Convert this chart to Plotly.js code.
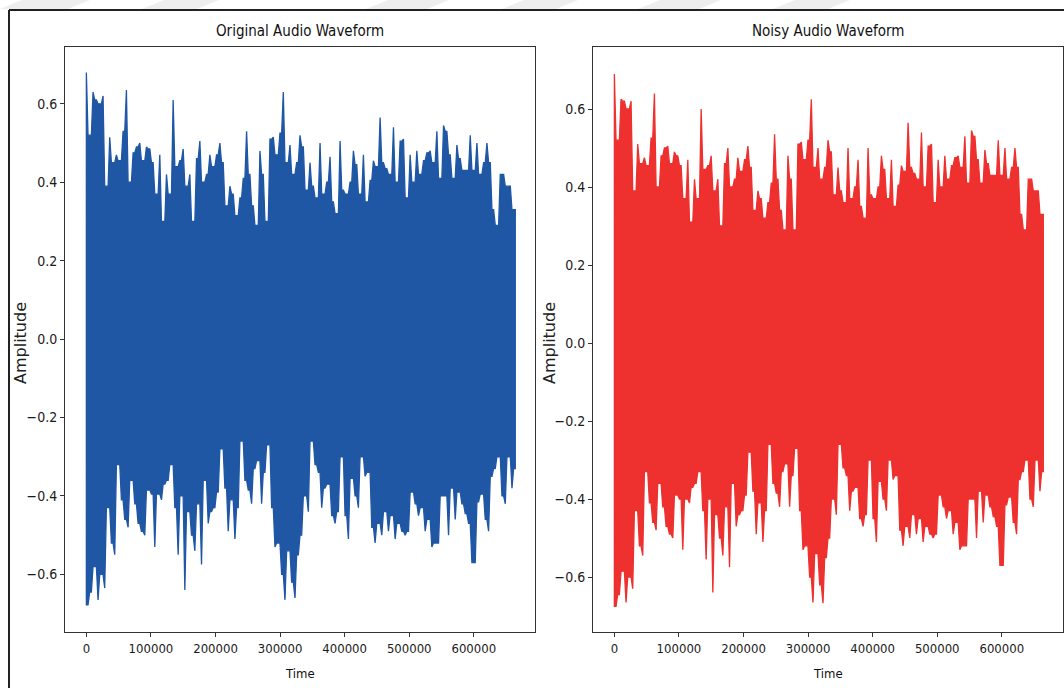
<!DOCTYPE html>
<html>
<head>
<meta charset="utf-8">
<script src="https://cdn.plot.ly/plotly-3.0.1.min.js"></script>
<style>
  html, body { margin: 0; padding: 0; background: #ffffff; }
  #chart { width: 1064px; height: 688px; }
</style>
</head>
<body>
<div id="chart"></div>
<script>
// Sample spacing of the envelope readings (samples per reading)
const STEP = 5170;

// Original audio: upper and lower envelope (peak amplitude per reading window)
const originalUpper = [
  0.68, 0.52, 0.63, 0.61, 0.60, 0.62, 0.39, 0.515, 0.45, 0.47,
  0.455, 0.53, 0.635, 0.40, 0.475, 0.49, 0.50, 0.455, 0.49, 0.485,
  0.45, 0.37, 0.47, 0.30, 0.42, 0.37, 0.61, 0.44, 0.455, 0.485,
  0.39, 0.42, 0.30, 0.46, 0.505, 0.40, 0.42, 0.47, 0.44, 0.47,
  0.50, 0.45, 0.34, 0.39, 0.37, 0.315, 0.36, 0.41, 0.53, 0.42,
  0.34, 0.29, 0.48, 0.42, 0.30, 0.51, 0.515, 0.47, 0.525, 0.63,
  0.45, 0.495, 0.42, 0.45, 0.52, 0.49, 0.38, 0.45, 0.39, 0.36,
  0.50, 0.37, 0.40, 0.465, 0.35, 0.32, 0.505, 0.38, 0.37, 0.40,
  0.48, 0.445, 0.37, 0.47, 0.35, 0.405, 0.455, 0.44, 0.565, 0.45,
  0.435, 0.42, 0.54, 0.40, 0.505, 0.51, 0.36, 0.47, 0.40, 0.48,
  0.42, 0.455, 0.475, 0.48, 0.45, 0.53, 0.41, 0.545, 0.53, 0.47,
  0.41, 0.495, 0.46, 0.43, 0.43, 0.52, 0.43, 0.50, 0.42, 0.45,
  0.50, 0.45, 0.33, 0.29, 0.42, 0.42, 0.39, 0.39, 0.33
];
const originalLower = [
  -0.678, -0.645, -0.58, -0.665, -0.60, -0.635, -0.43, -0.52, -0.55, -0.32,
  -0.41, -0.46, -0.48, -0.36, -0.42, -0.47, -0.49, -0.50, -0.385, -0.395,
  -0.53, -0.395, -0.41, -0.37, -0.36, -0.32, -0.43, -0.55, -0.40, -0.64,
  -0.44, -0.50, -0.54, -0.42, -0.575, -0.36, -0.47, -0.44, -0.43, -0.39,
  -0.28, -0.38, -0.49, -0.41, -0.51, -0.43, -0.26, -0.36, -0.385, -0.42,
  -0.33, -0.31, -0.42, -0.34, -0.27, -0.43, -0.53, -0.52, -0.60, -0.665,
  -0.54, -0.62, -0.66, -0.55, -0.50, -0.40, -0.44, -0.26, -0.32, -0.34,
  -0.43, -0.38, -0.37, -0.45, -0.47, -0.44, -0.30, -0.45, -0.51, -0.355,
  -0.40, -0.43, -0.30, -0.35, -0.34, -0.48, -0.52, -0.47, -0.50, -0.44,
  -0.49, -0.45, -0.51, -0.47, -0.49, -0.50, -0.49, -0.39, -0.42, -0.45,
  -0.43, -0.49, -0.46, -0.53, -0.52, -0.52, -0.40, -0.40, -0.50, -0.38,
  -0.46, -0.39, -0.42, -0.445, -0.47, -0.57, -0.57, -0.415, -0.395, -0.46,
  -0.49, -0.35, -0.33, -0.30, -0.40, -0.42, -0.30, -0.38, -0.33
];

// Noisy audio: upper and lower envelope
const noisyUpper = [
  0.69, 0.52, 0.625, 0.62, 0.60, 0.62, 0.39, 0.51, 0.46, 0.475,
  0.455, 0.525, 0.64, 0.40, 0.48, 0.50, 0.505, 0.46, 0.49, 0.48,
  0.455, 0.37, 0.47, 0.31, 0.42, 0.37, 0.60, 0.445, 0.455, 0.48,
  0.39, 0.42, 0.30, 0.46, 0.50, 0.40, 0.42, 0.475, 0.44, 0.47,
  0.505, 0.45, 0.34, 0.39, 0.37, 0.32, 0.36, 0.41, 0.535, 0.42,
  0.34, 0.29, 0.48, 0.42, 0.29, 0.51, 0.515, 0.47, 0.52, 0.625,
  0.45, 0.50, 0.42, 0.45, 0.52, 0.49, 0.38, 0.45, 0.39, 0.36,
  0.50, 0.37, 0.40, 0.47, 0.35, 0.32, 0.50, 0.38, 0.37, 0.40,
  0.48, 0.445, 0.37, 0.47, 0.35, 0.405, 0.455, 0.44, 0.565, 0.45,
  0.435, 0.42, 0.54, 0.40, 0.505, 0.51, 0.36, 0.47, 0.40, 0.48,
  0.42, 0.455, 0.475, 0.48, 0.45, 0.53, 0.41, 0.545, 0.53, 0.47,
  0.41, 0.495, 0.46, 0.43, 0.43, 0.52, 0.43, 0.50, 0.42, 0.45,
  0.50, 0.45, 0.33, 0.29, 0.42, 0.42, 0.39, 0.39, 0.33
];
const noisyLower = [
  -0.675, -0.645, -0.585, -0.665, -0.60, -0.63, -0.43, -0.52, -0.545, -0.33,
  -0.41, -0.46, -0.48, -0.36, -0.42, -0.47, -0.49, -0.50, -0.39, -0.40,
  -0.53, -0.40, -0.41, -0.37, -0.36, -0.33, -0.43, -0.555, -0.40, -0.64,
  -0.44, -0.50, -0.545, -0.42, -0.575, -0.36, -0.47, -0.44, -0.43, -0.39,
  -0.28, -0.38, -0.49, -0.41, -0.51, -0.43, -0.26, -0.36, -0.385, -0.42,
  -0.33, -0.31, -0.42, -0.34, -0.27, -0.43, -0.53, -0.52, -0.60, -0.665,
  -0.54, -0.62, -0.667, -0.55, -0.50, -0.40, -0.44, -0.26, -0.32, -0.34,
  -0.43, -0.38, -0.37, -0.45, -0.47, -0.44, -0.30, -0.45, -0.51, -0.355,
  -0.40, -0.43, -0.30, -0.35, -0.34, -0.48, -0.52, -0.47, -0.50, -0.44,
  -0.49, -0.45, -0.51, -0.47, -0.49, -0.50, -0.49, -0.39, -0.42, -0.45,
  -0.43, -0.49, -0.46, -0.53, -0.52, -0.52, -0.40, -0.40, -0.50, -0.38,
  -0.46, -0.39, -0.42, -0.445, -0.47, -0.57, -0.57, -0.415, -0.395, -0.46,
  -0.49, -0.35, -0.33, -0.30, -0.40, -0.42, -0.30, -0.38, -0.33
];

// Tick labels
const xTickVals = [0, 100000, 200000, 300000, 400000, 500000, 600000];
const xTickText = ['0', '100000', '200000', '300000', '400000', '500000', '600000'];
const yTickVals = [-0.6, -0.4, -0.2, 0.0, 0.2, 0.4, 0.6];
const yTickText = ['\u22120.6', '\u22120.4', '\u22120.2', '0.0', '0.2', '0.4', '0.6'];

const titles = ['Original Audio Waveform', 'Noisy Audio Waveform'];
const xLabel = 'Time';
const yLabel = 'Amplitude';

// Closed waveform outline: each reading window shows its positive peak, then its
// negative peak; between windows the outline dips to the smaller neighbouring peak.
function waveform(upper, lower) {
  const n = upper.length, h = STEP / 2;
  const xs = [], ys = [];
  for (let i = 0; i < n; i++) {
    xs.push(i * STEP); ys.push(upper[i]);
    const nxt = i + 1 < n ? upper[i + 1] : upper[i];
    xs.push(i * STEP + h); ys.push(Math.min(upper[i], nxt));
  }
  for (let i = n - 1; i >= 0; i--) {
    xs.push(i * STEP + h); ys.push(lower[i]);
    const prv = i > 0 ? lower[i - 1] : lower[i];
    xs.push(i * STEP); ys.push(Math.max(lower[i], prv));
  }
  xs.push(xs[0]); ys.push(ys[0]);
  return { xs, ys };
}

const a = waveform(originalUpper, originalLower);
const b = waveform(noisyUpper, noisyLower);

const narrow = 'Liberation Sans Narrow, DejaVu Sans Condensed, Arial Narrow, sans-serif';
const W = 1064, H = 688;
const BLUE = '#1f57a5', RED = '#ee302e';

const traces = [
  { x: a.xs, y: a.ys, type: 'scatter', mode: 'lines', xaxis: 'x', yaxis: 'y',
    fill: 'toself', fillcolor: BLUE,
    line: { color: BLUE, width: 1.3 }, hoverinfo: 'skip', showlegend: false },
  { x: b.xs, y: b.ys, type: 'scatter', mode: 'lines', xaxis: 'x2', yaxis: 'y2',
    fill: 'toself', fillcolor: RED,
    line: { color: RED, width: 1.3 }, hoverinfo: 'skip', showlegend: false }
];

function xAxis(domain, anchor) {
  return {
    domain: domain, anchor: anchor, range: [-33088, 694850],
    tickmode: 'array', tickvals: xTickVals, ticktext: xTickText,
    ticks: 'outside', ticklen: 4, tickwidth: 1, tickcolor: '#333',
    showline: true, linecolor: '#333', linewidth: 1, mirror: true,
    showgrid: false, zeroline: false,
    tickfont: { family: narrow, size: 13, color: '#1a1a1a' }
  };
}
function yAxis(domain, anchor, range) {
  return {
    domain: domain, anchor: anchor, range: range,
    tickmode: 'array', tickvals: yTickVals, ticktext: yTickText,
    ticks: 'outside', ticklen: 4, tickwidth: 1, tickcolor: '#333',
    showline: true, linecolor: '#333', linewidth: 1, mirror: true,
    showgrid: false, zeroline: false,
    tickfont: { family: narrow, size: 14, color: '#1a1a1a' }
  };
}

const yDom = [1 - 632 / H, 1 - 47 / H];

const stripes = [[0, 68], [142, 197], [366, 427], [502, 556], [638, 699], [773, 828]];
const shapes = stripes.map(s => ({
  type: 'path', xref: 'paper', yref: 'paper', layer: 'below',
  path: 'M ' + (s[0] / W) + ',' + (1 - 9 / H) + ' L ' + ((s[0] + 22) / W) + ',1 L ' +
        ((s[1] + 22) / W) + ',1 L ' + (s[1] / W) + ',' + (1 - 9 / H) + ' Z',
  fillcolor: '#eeeeee', line: { width: 0 }
}));
// outer frame lines
shapes.push({ type: 'line', xref: 'paper', yref: 'paper',
  x0: 9 / W, x1: 1.01, y0: 1 - 10 / H, y1: 1 - 10 / H, line: { color: '#222', width: 2 } });
shapes.push({ type: 'line', xref: 'paper', yref: 'paper',
  x0: 9 / W, x1: 9 / W, y0: -0.01, y1: 1 - 10 / H, line: { color: '#222', width: 2 } });

const annotations = [
  { text: titles[0], x: 300 / W, y: 1 - 31 / H, size: 15 },
  { text: titles[1], x: 828 / W, y: 1 - 31 / H, size: 15 },
  { text: xLabel, x: 300 / W, y: 1 - 673 / H, size: 13 },
  { text: xLabel, x: 828 / W, y: 1 - 673 / H, size: 13 }
].map(o => ({ xref: 'paper', yref: 'paper', showarrow: false,
  xanchor: 'center', yanchor: 'middle', text: o.text, x: o.x, y: o.y,
  font: { family: narrow, size: o.size, color: '#111' } }));
[20, 549].forEach(px => annotations.push({
  text: yLabel, x: px / W, y: 1 - 343 / H, textangle: -90,
  xref: 'paper', yref: 'paper', showarrow: false, xanchor: 'center', yanchor: 'middle',
  font: { family: 'DejaVu Sans, sans-serif', size: 16, color: '#222' } }));

const layout = {
  width: W, height: H,
  margin: { l: 0, r: 0, t: 0, b: 0 },
  paper_bgcolor: '#ffffff', plot_bgcolor: '#ffffff',
  xaxis: xAxis([65 / W, 535 / W], 'y'),
  yaxis: yAxis(yDom, 'x', [-0.747, 0.745]),
  xaxis2: xAxis([593 / W, 1063 / W], 'y2'),
  yaxis2: yAxis(yDom, 'x2', [-0.741, 0.759]),
  shapes: shapes,
  annotations: annotations,
  showlegend: false
};

Plotly.newPlot('chart', traces, layout, { staticPlot: true, displayModeBar: false });
</script>
</body>
</html>
